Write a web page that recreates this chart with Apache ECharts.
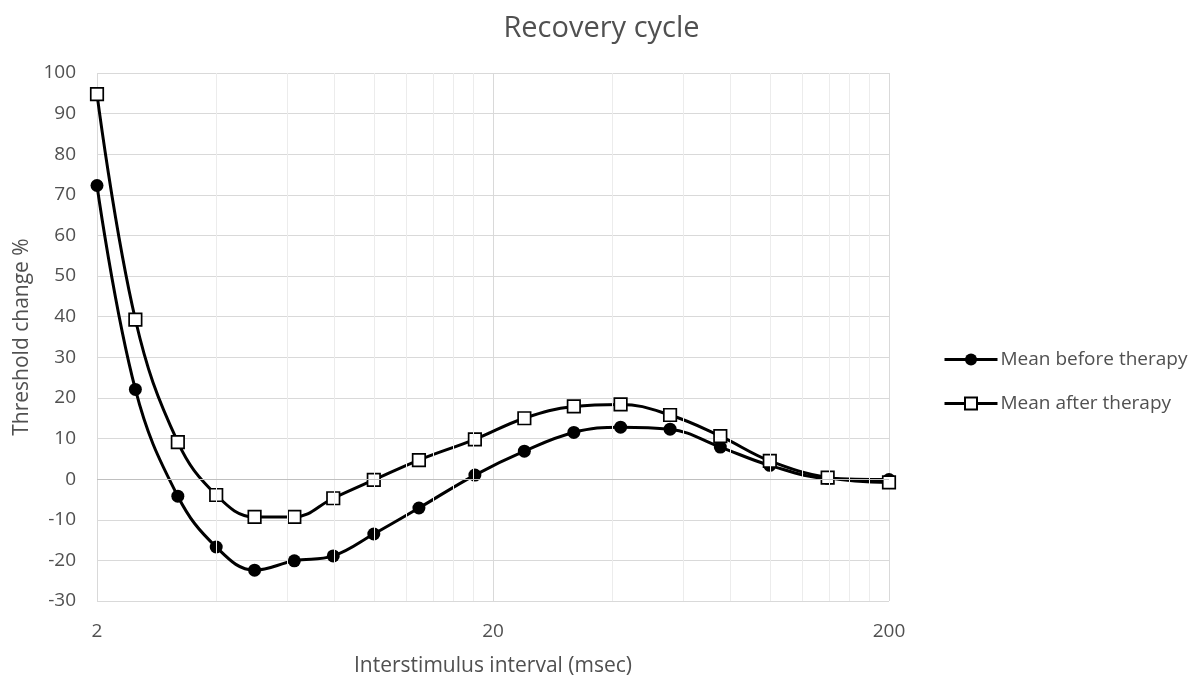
<!DOCTYPE html>
<html>
<head>
<meta charset="utf-8">
<script src="https://cdn.jsdelivr.net/npm/echarts@6/dist/echarts.min.js"></script>
<style>
  html, body { margin: 0; padding: 0; background: #ffffff; }
  #chart { width: 1203px; height: 683px; }
</style>
</head>
<body>
<div id="chart"></div>
<script>
// ---- data ----
const isi = [2, 2.5, 3.2, 4, 5, 6.3, 7.9, 10, 13, 18, 24, 32, 42, 56, 75, 100, 140, 200];
const meanBefore = [72.3, 22.1, -4.2, -16.7, -22.4, -20.1, -18.9, -13.5, -7.1, 1.0, 6.9, 11.5, 12.8, 12.3, 7.9, 3.4, 0.2, -0.1];
const meanAfter  = [94.8, 39.3, 9.1, -3.9, -9.3, -9.3, -4.7, -0.2, 4.7, 9.8, 15.0, 17.9, 18.4, 15.8, 10.6, 4.5, 0.4, -0.8];
const seriesNames = ['Mean before therapy', 'Mean after therapy'];
const xTickLabels = [2, 20, 200];
const xMinorLines = [4, 6, 8, 10, 12, 14, 16, 18, 40, 60, 80, 100, 120, 140, 160, 180];
const yMin = -30, yMax = 100, yStep = 10;

// log10 axis anchored at the first tick (2 ms)
const X0 = xTickLabels[0];
const toAxis = v => Math.log10(v / X0);

const textColor = '#505050';
const font = '"Open Sans", sans-serif';

const chart = echarts.init(document.getElementById('chart'), null, { renderer: 'canvas' });

chart.setOption({
  animation: false,
  backgroundColor: '#ffffff',
  title: {
    text: 'Recovery cycle',
    left: 'center',
    top: 9,
    textStyle: { color: textColor, fontFamily: font, fontSize: 29, fontWeight: 'normal' }
  },
  legend: {
    data: seriesNames,
    orient: 'vertical',
    left: 938,
    top: 345,
    itemWidth: 53,
    itemHeight: 15,
    itemGap: 25,
    lineStyle: { width: 3 },
    textStyle: { color: textColor, fontFamily: font, fontSize: 19, padding: [0, 0, 0, -2] }
  },
  grid: { left: 97, right: 314, top: 73, bottom: 82, containLabel: false },
  xAxis: {
    type: 'value',
    min: 0,
    max: toAxis(xTickLabels[xTickLabels.length - 1]),
    interval: 1,
    name: 'Interstimulus interval (msec)',
    nameLocation: 'middle',
    nameGap: 55,
    nameTextStyle: { color: textColor, fontFamily: font, fontSize: 21 },
    axisLine: { show: false },
    axisTick: { show: false },
    axisLabel: {
      color: textColor, fontFamily: font, fontSize: 19, margin: 21,
      formatter: (v, i) => String(xTickLabels[i] !== undefined ? xTickLabels[i] : Math.round(X0 * Math.pow(10, v)))
    },
    splitLine: { show: true, lineStyle: { color: '#d9d9d9', width: 1 } }
  },
  yAxis: {
    type: 'value',
    min: yMin,
    max: yMax,
    interval: yStep,
    name: 'Threshold change %',
    nameLocation: 'middle',
    nameGap: 62,
    nameTextStyle: { color: textColor, fontFamily: font, fontSize: 21 },
    axisLine: { show: false },
    axisTick: { show: false },
    axisLabel: { color: textColor, fontFamily: font, fontSize: 19, margin: 21 },
    splitLine: { show: true, lineStyle: { color: '#d9d9d9', width: 1 } }
  },
  series: [
    {
      name: 'gridlines',
      type: 'line',
      data: [],
      z: 1,
      silent: true,
      markLine: {
        silent: true,
        symbol: 'none',
        label: { show: false },
        emphasis: { disabled: true },
        data: xMinorLines.map(v => ({ xAxis: toAxis(v), lineStyle: { color: '#ececec', width: 1, type: 'solid' } }))
          .concat([{ yAxis: 0, lineStyle: { color: '#bfbfbf', width: 1, type: 'solid' } }])
      }
    },
    {
      name: seriesNames[0],
      type: 'line',
      z: 3,
      smooth: 0.4,
      data: isi.map((x, i) => [toAxis(x), meanBefore[i]]),
      symbol: 'circle',
      symbolSize: 13,
      showAllSymbol: true,
      lineStyle: { color: '#000000', width: 3 },
      itemStyle: { color: '#000000', borderColor: '#000000', borderWidth: 0 }
    },
    {
      name: seriesNames[1],
      type: 'line',
      z: 4,
      smooth: 0.4,
      data: isi.map((x, i) => [toAxis(x), meanAfter[i]]),
      symbol: 'rect',
      symbolSize: 12.5,
      showAllSymbol: true,
      lineStyle: { color: '#000000', width: 3 },
      itemStyle: { color: '#ffffff', borderColor: '#000000', borderWidth: 1.7 }
    }
  ]
});
</script>
</body>
</html>
